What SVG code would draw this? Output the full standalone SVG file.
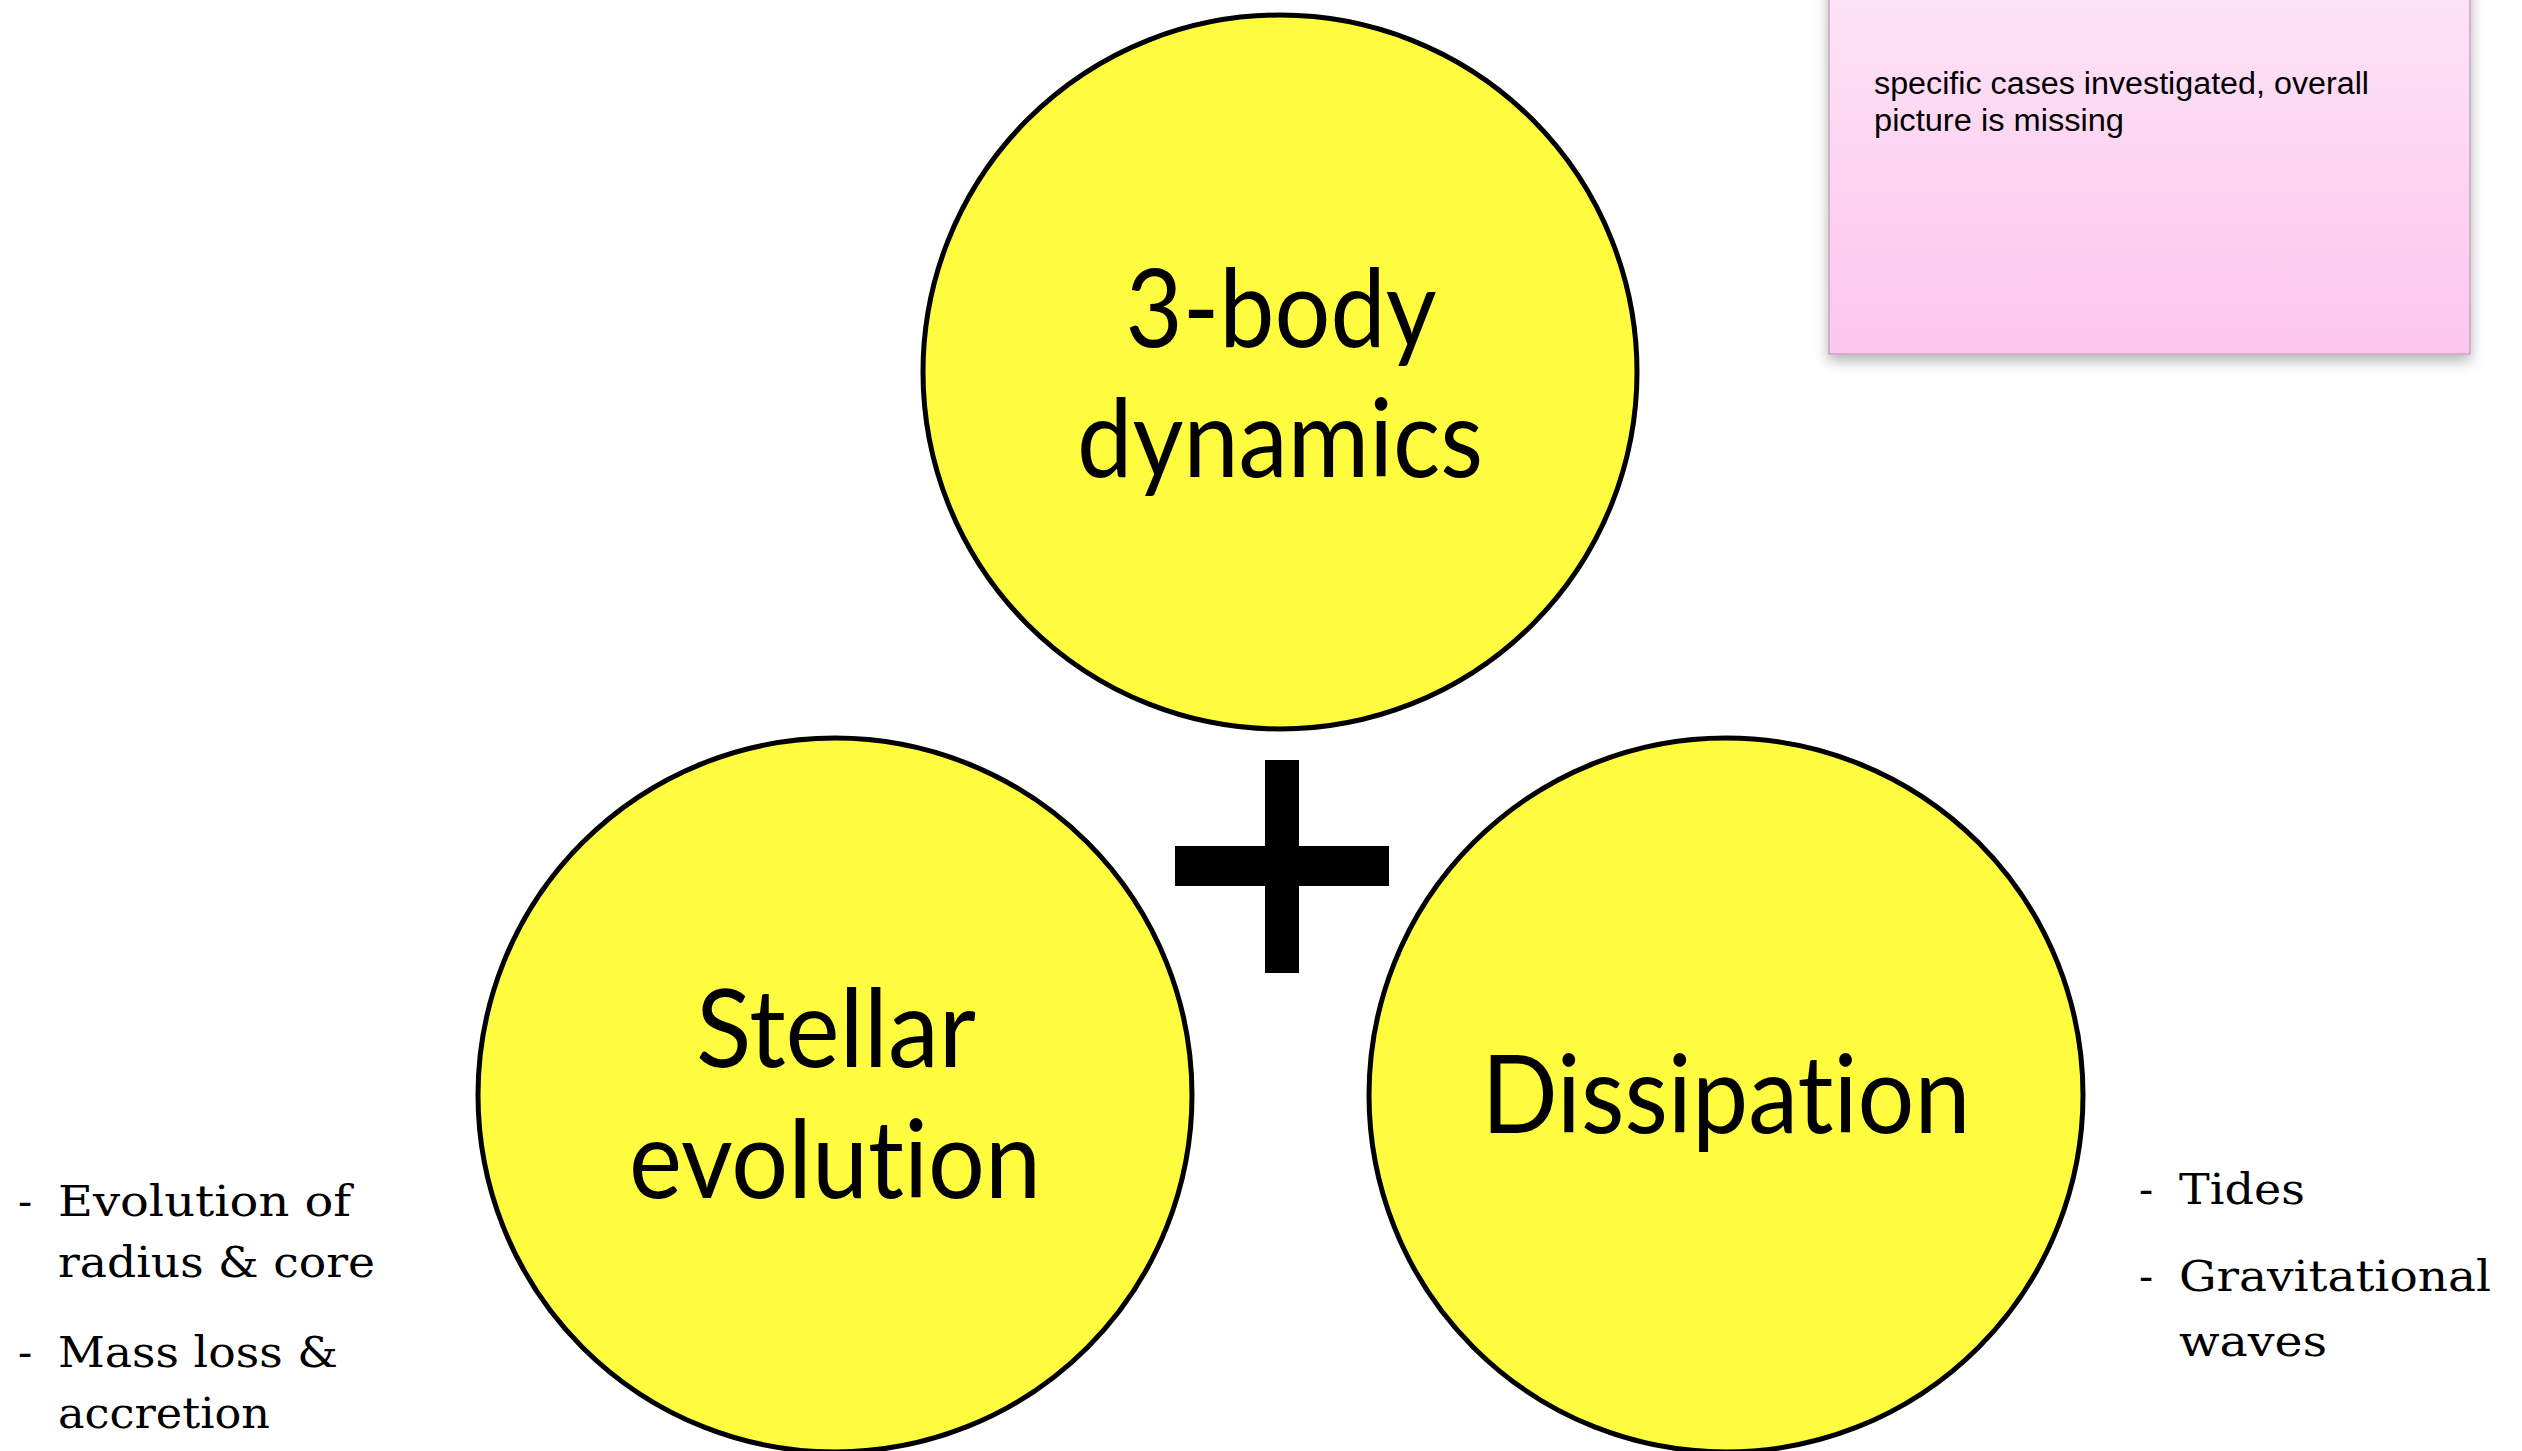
<svg xmlns="http://www.w3.org/2000/svg" width="2522" height="1451" viewBox="0 0 2522 1451">
  <defs>
    <linearGradient id="noteGrad" x1="0" y1="0" x2="0" y2="1">
      <stop offset="0" stop-color="#fde4f6"/>
      <stop offset="1" stop-color="#fcc5ee"/>
    </linearGradient>
    <filter id="noteShadow" x="-10%" y="-10%" width="120%" height="130%">
      <feDropShadow dx="0" dy="6" stdDeviation="7" flood-color="#000" flood-opacity="0.3"/>
    </filter>
  </defs>
  <style>
    .circle { fill: #fffc40; stroke: #000; stroke-width: 5; }
    .big { font-family: Lato, "Open Sans", sans-serif; font-size: 108px; fill: #000; text-anchor: middle; font-variant-ligatures: none; font-feature-settings: "liga" 0, "clig" 0; }
    .list { font-family: "DejaVu Serif", "Liberation Serif", serif; font-size: 42px; fill: #000; }
    .note { font-family: "Liberation Sans", Arial, sans-serif; font-size: 31px; fill: #000; }
  </style>
  <rect width="2522" height="1451" fill="#fff"/>

  <g id="note">
    <rect x="1829" y="-20" width="641" height="374" fill="url(#noteGrad)" stroke="#c8a2be" stroke-width="1.5" filter="url(#noteShadow)"/>
    <text class="note" x="1874" y="94" textLength="495" lengthAdjust="spacingAndGlyphs">specific cases investigated, overall</text>
    <text class="note" x="1874" y="131" textLength="250" lengthAdjust="spacingAndGlyphs">picture is missing</text>
  </g>

  <g id="node-3body">
    <circle class="circle" cx="1280" cy="372" r="357"/>
    <text class="big" x="1281" y="347" textLength="311" lengthAdjust="spacingAndGlyphs">3-body</text>
    <text class="big" x="1280" y="477" textLength="406" lengthAdjust="spacingAndGlyphs">dynamics</text>
  </g>

  <g id="node-stellar">
    <circle class="circle" cx="835" cy="1095" r="357"/>
    <text class="big" x="836" y="1067" textLength="280" lengthAdjust="spacingAndGlyphs">Stellar</text>
    <text class="big" x="835" y="1198" textLength="412" lengthAdjust="spacingAndGlyphs">evolution</text>
  </g>

  <g id="node-dissipation">
    <circle class="circle" cx="1726" cy="1095" r="357"/>
    <text class="big" x="1726" y="1133" textLength="489" lengthAdjust="spacingAndGlyphs">Dissipation</text>
  </g>

  <g id="connectors">
    <g id="plus">
      <rect x="1265" y="760" width="34" height="213" fill="#000"/>
      <rect x="1175" y="846" width="214" height="40" fill="#000"/>
    </g>
  </g>

  <g id="list-stellar">
    <text class="list" x="18" y="1216">-</text>
    <text class="list" x="58" y="1216" textLength="293" lengthAdjust="spacingAndGlyphs">Evolution of</text>
    <text class="list" x="58" y="1277" textLength="317" lengthAdjust="spacingAndGlyphs">radius &amp; core</text>
    <text class="list" x="18" y="1367">-</text>
    <text class="list" x="58" y="1367" textLength="280" lengthAdjust="spacingAndGlyphs">Mass loss &amp;</text>
    <text class="list" x="58" y="1428" textLength="212" lengthAdjust="spacingAndGlyphs">accretion</text>
  </g>

  <g id="list-dissipation">
    <text class="list" x="2139" y="1204">-</text>
    <text class="list" x="2179" y="1204" textLength="126" lengthAdjust="spacingAndGlyphs">Tides</text>
    <text class="list" x="2139" y="1291">-</text>
    <text class="list" x="2179" y="1291" textLength="312" lengthAdjust="spacingAndGlyphs">Gravitational</text>
    <text class="list" x="2179" y="1356" textLength="148" lengthAdjust="spacingAndGlyphs">waves</text>
  </g>
</svg>
